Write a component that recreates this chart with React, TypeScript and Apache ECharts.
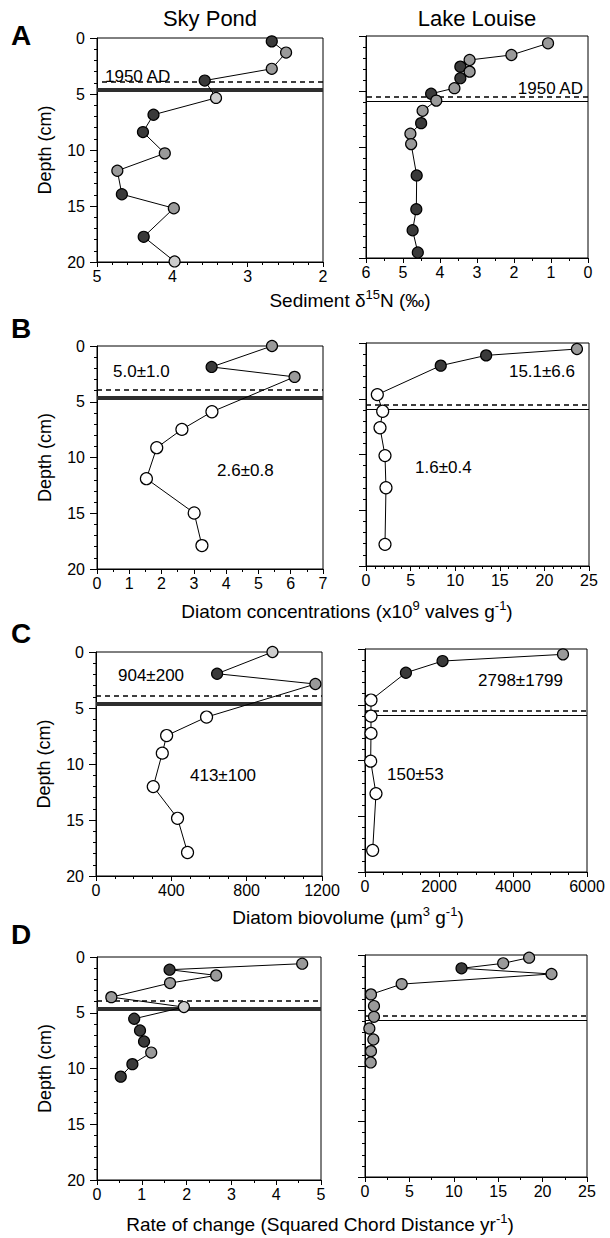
import React, { useEffect, useRef } from "react";
import * as echarts from "echarts";

const FONT = '"Liberation Sans", Arial, Helvetica, sans-serif';

// ---------- DATA ----------
// Depths (cm) and values
const skyD15N = [2.68, 2.49, 2.68, 3.57, 3.42, 4.25, 4.39, 4.1, 4.73, 4.67, 3.98, 4.38, 3.97];
const skyD15NDepth = [0.3, 1.3, 2.75, 3.8, 5.35, 6.85, 8.4, 10.3, 11.85, 13.95, 15.2, 17.75, 19.95];
const skyD15NKind = ["d", "g", "g", "d", "l", "d", "d", "g", "g", "d", "g", "d", "l"];

const louiseD15N = [1.08, 2.07, 3.2, 3.45, 3.2, 3.45, 3.61, 4.24, 4.1, 4.47, 4.51, 4.8, 4.78, 4.63, 4.64, 4.74, 4.6];
const louiseD15NDepth = [0.66, 1.71, 2.16, 2.76, 3.21, 3.8, 4.7, 5.2, 5.82, 6.74, 7.85, 8.8, 9.74, 12.56, 15.6, 17.5, 19.5];
const louiseD15NKind = ["g", "g", "g", "d", "g", "d", "g", "d", "g", "g", "d", "g", "g", "d", "d", "d", "d"];

const skyConc = [5.42, 3.55, 6.12, 3.56, 2.63, 1.85, 1.53, 3.01, 3.25];
const skyConcDepth = [0, 1.88, 2.77, 5.9, 7.48, 9.12, 11.9, 14.98, 17.9];
const skyConcKind = ["g", "d", "g", "o", "o", "o", "o", "o", "o"];

const louiseConc = [23.65, 13.47, 8.38, 1.27, 1.87, 1.57, 2.13, 2.24, 2.13];
const louiseConcDepth = [0.54, 1.11, 2.03, 4.63, 6.12, 7.6, 10.1, 12.98, 18.06];
const louiseConcKind = ["g", "d", "d", "o", "o", "o", "o", "o", "o"];

const skyBio = [937, 643, 1165, 587, 375, 352, 304, 433, 486];
const skyBioDepth = [0, 1.94, 2.86, 5.81, 7.46, 9.03, 12.02, 14.85, 17.9];
const skyBioKind = ["l", "d", "g", "o", "o", "o", "o", "o", "o"];

const louiseBio = [5351, 2096, 1106, 162, 162, 162, 153, 297, 207];
const louiseBioDepth = [0.48, 1.08, 2.13, 4.58, 6.02, 7.57, 10.06, 12.97, 18.06];
const louiseBioKind = ["g", "d", "d", "o", "o", "o", "o", "o", "o"];

const skyROC = [4.58, 1.62, 2.66, 1.63, 0.32, 1.94, 0.83, 0.96, 1.05, 1.21, 0.79, 0.53];
const skyROCDepth = [0.6, 1.14, 1.65, 2.34, 3.6, 4.49, 5.54, 6.59, 7.58, 8.57, 9.61, 10.73];
const skyROCKind = ["g", "d", "g", "g", "g", "l", "d", "d", "d", "g", "d", "d"];

const louiseROC = [18.48, 15.56, 10.87, 21.0, 4.13, 0.67, 1.01, 1.01, 0.49, 0.94, 0.67, 0.64];
const louiseROCDepth = [0.24, 0.75, 1.2, 1.71, 2.62, 3.55, 4.6, 5.57, 6.62, 7.61, 8.66, 9.68];
const louiseROCKind = ["g", "g", "d", "g", "g", "g", "g", "g", "g", "g", "g", "g"];

// Horizons (depth, cm)
const sky1950 = 3.9;
const skyBoundary = 4.6;
const louise1950 = 5.5;
const louiseBoundary = 5.9;

const depthTicks = { min: 0, max: 20, interval: 5 };

const siteTitles = ["Sky Pond", "Lake Louise"];
const panelLetters = ["A", "B", "C", "D"];

// mean ± sd annotations
const skyConcStats = ["5.0±1.0", "2.6±0.8"];
const louiseConcStats = ["15.1±6.6", "1.6±0.4"];
const skyBioStats = ["904±200", "413±100"];
const louiseBioStats = ["2798±1799", "150±53"];
const horizonLabel = "1950 AD";

// ---------- STYLE ----------
const SHADE: Record<string, string> = { d: "#3a3a3a", g: "#9a9a9a", l: "#cdcdcd", o: "#ffffff" };

const panels = [
  { grid: { left: 97, top: 38, width: 226, height: 224 }, x: { min: 2, max: 5, interval: 1, inverse: true, minor: 5 },
    xs: skyD15N, ds: skyD15NDepth, kinds: skyD15NKind, lake: "sky", yLabels: true },
  { grid: { left: 366, top: 36, width: 222, height: 222 }, x: { min: 0, max: 6, interval: 1, inverse: true, minor: 2 },
    xs: louiseD15N, ds: louiseD15NDepth, kinds: louiseD15NKind, lake: "louise", yLabels: false },
  { grid: { left: 97, top: 346, width: 226, height: 223 }, x: { min: 0, max: 7, interval: 1, inverse: false, minor: 2 },
    xs: skyConc, ds: skyConcDepth, kinds: skyConcKind, lake: "sky", yLabels: true },
  { grid: { left: 366, top: 343, width: 223, height: 223 }, x: { min: 0, max: 25, interval: 5, inverse: false, minor: 5 },
    xs: louiseConc, ds: louiseConcDepth, kinds: louiseConcKind, lake: "louise", yLabels: false },
  { grid: { left: 96, top: 652, width: 226, height: 224 }, x: { min: 0, max: 1200, interval: 400, inverse: false, minor: 4 },
    xs: skyBio, ds: skyBioDepth, kinds: skyBioKind, lake: "sky", yLabels: true },
  { grid: { left: 365, top: 649, width: 222, height: 223 }, x: { min: 0, max: 6000, interval: 2000, inverse: false, minor: 4 },
    xs: louiseBio, ds: louiseBioDepth, kinds: louiseBioKind, lake: "louise", yLabels: false },
  { grid: { left: 97, top: 957, width: 224, height: 223 }, x: { min: 0, max: 5, interval: 1, inverse: false, minor: 2 },
    xs: skyROC, ds: skyROCDepth, kinds: skyROCKind, lake: "sky", yLabels: true },
  { grid: { left: 365, top: 955, width: 222, height: 222 }, x: { min: 0, max: 25, interval: 5, inverse: false, minor: 2 },
    xs: louiseROC, ds: louiseROCDepth, kinds: louiseROCKind, lake: "louise", yLabels: false },
];

function txt(text: string, x: number, y: number, size: number, align = "left", weight = "normal") {
  return {
    type: "text",
    x,
    y,
    silent: true,
    style: { text, fill: "#000", font: `${weight} ${size}px ${FONT}`, align, verticalAlign: "middle" },
  };
}

function richTitle(text: string, x: number, y: number) {
  return {
    type: "text",
    x,
    y,
    silent: true,
    style: {
      text,
      fill: "#000",
      font: `19px ${FONT}`,
      fontSize: 19,
      align: "center",
      verticalAlign: "middle",
      rich: {
        n: { font: `19px ${FONT}`, fontSize: 19, fontFamily: FONT, fill: "#000" },
        s: { font: `13px ${FONT}`, fontSize: 13, fontFamily: FONT, fill: "#000", padding: [0, 0, 11, 0] },
      },
    },
  };
}

const plainNumber = (v: number) => String(v);

function buildOption() {
  const grid = panels.map((p) => ({
    ...p.grid,
    show: true,
    borderColor: "#000",
    borderWidth: 1,
    backgroundColor: "transparent",
    containLabel: false,
  }));

  const xAxis = panels.map((p, i) => ({
    type: "value",
    gridIndex: i,
    min: p.x.min,
    max: p.x.max,
    interval: p.x.interval,
    inverse: p.x.inverse,
    axisLine: { show: true, onZero: false, lineStyle: { color: "#000", width: 1 } },
    axisTick: { show: true, inside: false, length: 5, lineStyle: { color: "#000", width: 1 } },
    minorTick: { show: true, splitNumber: p.x.minor, length: 3, lineStyle: { color: "#000", width: 1 } },
    splitLine: { show: false },
    minorSplitLine: { show: false },
    axisLabel: {
      color: "#000", fontSize: 16, fontFamily: FONT, margin: 6,
      showMinLabel: true, showMaxLabel: true, hideOverlap: false, formatter: plainNumber,
    },
  }));

  const yAxis = panels.map((p, i) => ({
    type: "value",
    gridIndex: i,
    ...depthTicks,
    inverse: true,
    name: p.yLabels ? "Depth (cm)" : "",
    nameLocation: "middle",
    nameGap: 43,
    nameRotate: 90,
    nameTextStyle: { color: "#000", fontSize: 18, fontFamily: FONT },
    axisLine: { show: true, onZero: false, lineStyle: { color: "#000", width: 1 } },
    axisTick: { show: true, inside: false, length: 7, lineStyle: { color: "#000", width: 1 } },
    minorTick: { show: true, splitNumber: 5, length: 3, lineStyle: { color: "#000", width: 1 } },
    splitLine: { show: false },
    minorSplitLine: { show: false },
    axisLabel: {
      show: p.yLabels, color: "#000", fontSize: 16, fontFamily: FONT, margin: 12,
      showMinLabel: true, showMaxLabel: true, formatter: plainNumber,
    },
  }));

  const series = panels.map((p, i) => {
    const isSky = p.lake === "sky";
    return {
      type: "line",
      xAxisIndex: i,
      yAxisIndex: i,
      clip: false,
      symbol: "circle",
      symbolSize: 11,
      z: 5,
      lineStyle: { color: "#000", width: 1 },
      itemStyle: { borderColor: "#000", borderWidth: 1.2 },
      data: p.xs.map((v, k) => ({
        value: [v, p.ds[k]],
        symbolSize: p.kinds[k] === "o" ? 12 : 11,
        itemStyle: { color: SHADE[p.kinds[k]], borderColor: "#000", borderWidth: 1.2 },
      })),
      markLine: {
        silent: true,
        symbol: "none",
        z: 3,
        label: { show: false },
        data: [
          { yAxis: isSky ? sky1950 : louise1950, lineStyle: { type: [5, 4], width: 1.5, color: "#000" } },
          {
            yAxis: isSky ? skyBoundary : louiseBoundary,
            lineStyle: { type: "solid", width: isSky ? 4 : 1.2, color: isSky ? "#2e2e2e" : "#000" },
          },
        ],
      },
    };
  });

  const graphic = [
    txt(siteTitles[0], 210, 18, 22, "center"),
    txt(siteTitles[1], 477, 18, 22, "center"),
    txt(panelLetters[0], 11, 35, 28, "left", "bold"),
    txt(panelLetters[1], 11, 328, 28, "left", "bold"),
    txt(panelLetters[2], 11, 633, 28, "left", "bold"),
    txt(panelLetters[3], 11, 934, 28, "left", "bold"),
    txt(horizonLabel, 105, 76, 17),
    txt(horizonLabel, 583, 88, 17, "right"),
    txt(skyConcStats[0], 113, 371, 17),
    txt(skyConcStats[1], 217, 470, 17),
    txt(louiseConcStats[0], 575, 371, 17, "right"),
    txt(louiseConcStats[1], 415, 467, 17),
    txt(skyBioStats[0], 118, 675, 17),
    txt(skyBioStats[1], 190, 775, 17),
    txt(louiseBioStats[0], 563, 680, 17, "right"),
    txt(louiseBioStats[1], 387, 774, 17),
    richTitle("{n|Sediment δ}{s|15}{n|N (‰)}", 350, 300),
    richTitle("{n|Diatom concentrations (x10}{s|9}{n| valves g}{s|-1}{n|)}", 347, 611),
    richTitle("{n|Diatom biovolume (µm}{s|3}{n| g}{s|-1}{n|)}", 348, 917),
    richTitle("{n|Rate of change (Squared Chord Distance yr}{s|-1}{n|)}", 320, 1224),
  ];

  return {
    animation: false,
    backgroundColor: "#fff",
    textStyle: { fontFamily: FONT },
    grid,
    xAxis,
    yAxis,
    series,
    graphic,
  };
}

export default function App() {
  const ref = useRef<HTMLDivElement>(null);
  useEffect(() => {
    if (!ref.current) return;
    const chart = echarts.init(ref.current, undefined, { renderer: "svg" });
    chart.setOption(buildOption() as any);
    return () => chart.dispose();
  }, []);
  return (
    <div
      ref={ref}
      style={{ position: "absolute", left: 0, top: 0, width: 610, height: 1238, background: "#fff" }}
    />
  );
}
